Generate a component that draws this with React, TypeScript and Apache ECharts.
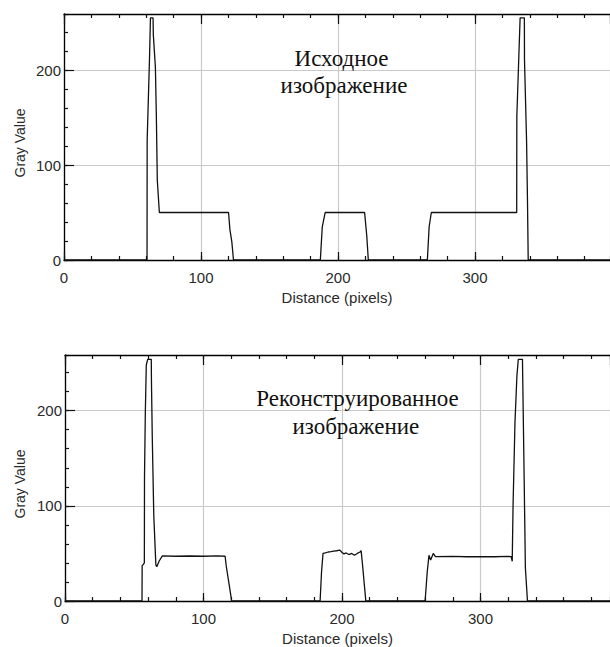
import React, { useEffect, useRef } from "react";
import * as echarts from "echarts";

// Original profile: [distance, gray value] breakpoints
const originalX = [0, 60.6, 60.7, 62.4, 63.1, 65.0, 65.2, 66.7, 67.4, 68.1, 69.6, 120.1, 121.1, 122.5, 123.7,
  187.1, 188.5, 190.6, 219.4, 221.0, 222.1,
  265.2, 266.5, 268.1, 330.4, 330.5, 331.7, 332.9, 336.0, 336.1, 337.6, 338.3, 338.8, 400];
const originalY = [0, 0, 126, 212, 255, 255, 237, 203, 152, 84, 50, 50, 32, 19, 0,
  0, 35, 50, 50, 25, 0,
  0, 35, 50, 50, 151, 203, 255, 255, 210, 126, 60, 0, 0];

// Reconstructed profile
const reconX = [0, 55.6, 55.7, 57.3, 57.4, 58.0, 58.7, 59.7, 62.3, 62.4, 63.0, 64.1, 65.6, 66.3, 68.0, 70.3,
  80, 90, 100, 110, 115.6, 116.5, 119.5, 120.3,
  184.2, 185.2, 186.3, 188, 190, 192, 194, 196, 198.5, 200, 201.5, 203, 205, 207, 209, 211, 213, 213.8, 214.7, 217.2,
  260, 261.5, 262.8, 264, 265.9, 267.5, 280, 290, 300, 310, 320, 322.2, 322.9, 323.5, 324.9, 326.3, 327.3,
  330.3, 330.5, 331.5, 332.4, 333.9, 400];
const reconY = [0, 0, 37, 40, 130, 198, 248, 254, 254, 233, 173, 90, 38, 36, 42, 47.5,
  47, 47.3, 47, 47.4, 47, 36, 8, 0,
  0, 30, 50, 50.5, 51.5, 51.8, 52.5, 52.8, 53.5, 51, 49.5, 50.5, 48.8, 50, 48, 50, 51.5, 52.9, 40, 0,
  0, 30, 48, 43, 50, 46.6, 46.8, 46.5, 46.7, 46.5, 46.8, 46.5, 41.7, 100, 188, 237, 254,
  254, 233, 131, 35, 0, 0];

const xTickStep = 100;
const xMinorStep = 20;
const yTickStep = 100;
const yMinorStep = 20;
const topXMax = 398.5;
const bottomXMax = 393.5;
const topYMax = 259;
const bottomYMax = 258.5;

const xTitle = "Distance (pixels)";
const yTitle = "Gray Value";
const topNote = ["Исходное", "изображение"];
const bottomNote = ["Реконструированное", "изображение"];

const pairs = (xs: number[], ys: number[]) => xs.map((x, i) => [x, ys[i]]);

const SANS = "'Liberation Sans', Arial, sans-serif";
const SERIF = "'Liberation Serif', 'Times New Roman', serif";

function xAxesFor(grid: number, max: number) {
  const base = { type: "value", gridIndex: grid, min: 0, max };
  return [
    {
      ...base, position: "bottom", interval: xTickStep,
      axisLine: { show: true, lineStyle: { color: "#000", width: 1.3 } },
      axisTick: { show: true, inside: true, length: 8, lineStyle: { color: "#111", width: 1.2 } },
      axisLabel: { show: true, showMaxLabel: false, margin: 10, color: "#2a2a2a", fontSize: 15, fontFamily: SANS },
      splitLine: { show: true, lineStyle: { color: "#c9c9c9", width: 1.2 } },
      name: xTitle, nameLocation: "middle", nameGap: 30,
      nameTextStyle: { color: "#2a2a2a", fontSize: 15, fontFamily: SANS },
      z: 5,
    },
    {
      ...base, position: "bottom", interval: xMinorStep,
      axisLine: { show: false },
      axisTick: { show: true, inside: true, length: 4, lineStyle: { color: "#111", width: 1.2 } },
      axisLabel: { show: false }, splitLine: { show: false },
    },
    {
      ...base, position: "top", interval: xTickStep,
      axisLine: { show: true, lineStyle: { color: "#000", width: 1.3 } },
      axisTick: { show: true, inside: true, length: 10, lineStyle: { color: "#111", width: 1.2 } },
      axisLabel: { show: false }, splitLine: { show: false },
      z: 10,
    },
    {
      ...base, position: "top", interval: xMinorStep,
      axisLine: { show: false },
      axisTick: { show: true, inside: true, length: 4, lineStyle: { color: "#111", width: 1.2 } },
      axisLabel: { show: false }, splitLine: { show: false },
    },
  ];
}

function yAxesFor(grid: number, max: number) {
  const base = { type: "value", gridIndex: grid, min: 0, max, position: "left" };
  return [
    {
      ...base, interval: yTickStep,
      axisLine: { show: true, lineStyle: { color: "#000", width: 1.3 } },
      axisTick: { show: true, inside: true, length: 10, lineStyle: { color: "#111", width: 1.2 } },
      axisLabel: { show: true, showMaxLabel: false, margin: 3, color: "#2a2a2a", fontSize: 15, fontFamily: SANS },
      splitLine: { show: true, lineStyle: { color: "#c9c9c9", width: 1.2 } },
      z: 5,
    },
    {
      ...base, interval: yMinorStep,
      axisLine: { show: false },
      axisTick: { show: true, inside: true, length: 4, lineStyle: { color: "#111", width: 1.2 } },
      axisLabel: { show: false }, splitLine: { show: false },
    },
  ];
}

function noteTexts(lines: string[], cx: number[], cy: number[]) {
  return lines.map((t, i) => ({
    type: "text", x: cx[i], y: cy[i], z: 20,
    style: { text: t, fill: "#111", font: `23px ${SERIF}`, align: "center", verticalAlign: "middle" },
  }));
}

export default function App() {
  const ref = useRef<HTMLDivElement>(null);
  useEffect(() => {
    if (!ref.current) return;
    const chart = echarts.init(ref.current, null, { renderer: "svg" });
    chart.setOption({
      animation: false,
      backgroundColor: "#fff",
      grid: [
        { left: 64, top: 14, width: 554, height: 246 },
        { left: 65, top: 355, width: 554, height: 246 },
      ],
      xAxis: [...xAxesFor(0, topXMax), ...xAxesFor(1, bottomXMax)],
      yAxis: [...yAxesFor(0, topYMax), ...yAxesFor(1, bottomYMax)],
      series: [
        {
          type: "line", xAxisIndex: 0, yAxisIndex: 0, data: pairs(originalX, originalY),
          showSymbol: false, lineStyle: { color: "#111", width: 1.3 }, z: 8,
        },
        {
          type: "line", xAxisIndex: 4, yAxisIndex: 2, data: pairs(reconX, reconY),
          showSymbol: false, lineStyle: { color: "#111", width: 1.3 }, z: 8,
        },
      ],
      graphic: [
        { type: "text", x: 20, y: 143, rotation: Math.PI / 2, z: 20,
          style: { text: yTitle, fill: "#2a2a2a", font: `14px ${SANS}`, align: "center", verticalAlign: "middle" } },
        { type: "text", x: 20, y: 484, rotation: Math.PI / 2, z: 20,
          style: { text: yTitle, fill: "#2a2a2a", font: `14px ${SANS}`, align: "center", verticalAlign: "middle" } },
        ...noteTexts(topNote, [341.5, 344], [58, 85.3]),
        ...noteTexts(bottomNote, [357.5, 355.8], [398.7, 426.3]),
      ],
    });
    return () => chart.dispose();
  }, []);
  return <div ref={ref} style={{ position: "absolute", left: 0, top: 0, width: 610, height: 647 }} />;
}
